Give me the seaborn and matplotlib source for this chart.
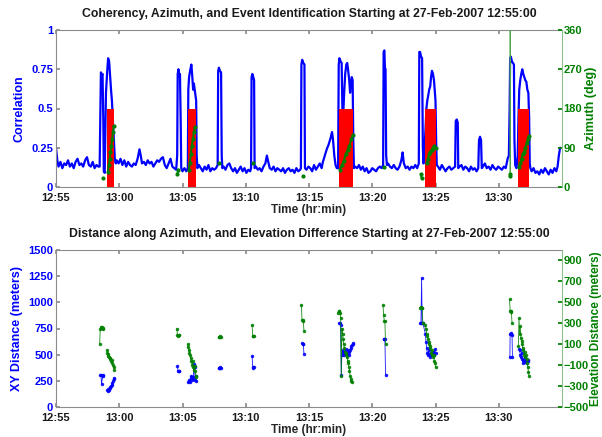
import numpy as np
import pandas as pd
import matplotlib
matplotlib.use("Agg")
import matplotlib.pyplot as plt
import seaborn as sns

# ---------------- data (minutes after 12:55:00) ----------------
tick_minutes = [0, 5, 10, 15, 20, 25, 30, 35]
tick_labels = ["12:55", "13:00", "13:05", "13:10", "13:15", "13:20", "13:25", "13:30"]

corr_time = [
    0.0, 0.1, 0.2, 0.35, 0.5, 0.65, 0.8, 0.95, 1.1, 1.25, 1.4, 1.55, 1.7, 1.85, 2.0, 2.15,
    2.3, 2.45, 2.6, 2.75, 2.9, 3.05, 3.2, 3.35,
    3.45, 3.5, 3.55, 3.62, 3.68, 3.74, 3.78, 3.85, 3.95, 4.05, 4.12, 4.2, 4.28, 4.35, 4.42,
    4.5, 4.58, 4.65, 4.72,
    4.8, 4.95, 5.1, 5.25, 5.4, 5.55, 5.7, 5.85, 6.0, 6.15, 6.3, 6.45, 6.6, 6.7, 6.8, 6.95,
    7.1, 7.25, 7.4, 7.55, 7.7, 7.85, 8.0, 8.15, 8.3, 8.45, 8.6, 8.75, 8.9, 9.05, 9.2, 9.35, 9.5,
    9.58, 9.62, 9.68, 9.74, 9.8, 9.86, 9.9, 10.0, 10.15, 10.3,
    10.42, 10.46, 10.52, 10.6, 10.7, 10.76, 10.84, 10.9, 11.0, 11.08, 11.12, 11.18,
    11.3, 11.45, 11.6, 11.75, 11.9, 12.05, 12.2, 12.35, 12.5, 12.65,
    12.78, 12.82, 12.88, 12.95, 13.05, 13.1, 13.15,
    13.25, 13.4, 13.55, 13.7, 13.85, 14.0, 14.15, 14.3, 14.45, 14.6, 14.75, 14.9, 15.05, 15.2, 15.35,
    15.42, 15.46, 15.52, 15.6, 15.66, 15.7,
    15.8, 15.95, 16.1, 16.25, 16.4, 16.55, 16.67, 16.78, 16.9, 17.05, 17.2, 17.35, 17.5, 17.65,
    17.8, 17.95, 18.1, 18.25, 18.4, 18.55, 18.7, 18.85, 19.0, 19.15, 19.3,
    19.36, 19.4, 19.46, 19.55, 19.64, 19.68,
    19.8, 19.95, 20.1, 20.25, 20.4, 20.55, 20.7, 20.85, 21.0, 21.1, 21.25, 21.4, 21.55, 21.7,
    21.82, 21.9, 22.0, 22.1, 22.2,
    22.3, 22.35, 22.4, 22.5, 22.58, 22.64, 22.7, 22.78, 22.86, 22.95, 23.02, 23.1, 23.18, 23.25,
    23.32, 23.38, 23.45, 23.5, 23.55,
    23.65, 23.8, 23.95, 24.1, 24.25, 24.4, 24.55, 24.7, 24.85, 25.0, 25.15, 25.3, 25.45, 25.6, 25.75,
    25.86, 25.9, 25.96, 26.0, 26.05, 26.1, 26.16,
    26.25, 26.4, 26.55, 26.7, 26.85, 27.0, 27.15, 27.3, 27.4, 27.5, 27.65, 27.8, 27.95, 28.1,
    28.25, 28.4, 28.55,
    28.68, 28.72, 28.78, 28.86, 28.94, 29.0, 29.05, 29.1, 29.2, 29.28, 29.35, 29.42, 29.5, 29.58,
    29.65, 29.72, 29.8, 29.88, 29.95, 30.0, 30.05, 30.1,
    30.2, 30.35, 30.5, 30.65, 30.8, 30.95, 31.1, 31.25, 31.4, 31.55, 31.6, 31.68, 31.76, 31.8, 31.9,
    32.05, 32.2, 32.35, 32.5, 32.65, 32.8, 32.95, 33.1, 33.25, 33.38, 33.44, 33.52, 33.6, 33.66, 33.75,
    33.9, 34.05, 34.2, 34.35, 34.5, 34.65, 34.8, 34.95, 35.1, 35.25, 35.4, 35.55, 35.7, 35.8,
    35.86, 35.9, 35.96, 36.04, 36.12, 36.2, 36.24, 36.3,
    36.4, 36.5, 36.56, 36.62, 36.7, 36.78, 36.86, 36.94, 37.02, 37.1, 37.18, 37.26, 37.34, 37.4,
    37.45, 37.5,
    37.6, 37.75, 37.9, 38.05, 38.2, 38.35, 38.5, 38.65, 38.8, 38.95, 39.1, 39.25, 39.4, 39.55,
    39.65, 39.75, 39.85,
]
corr_value = [
    0.25, 0.17, 0.13, 0.16, 0.12, 0.15, 0.14, 0.17, 0.13, 0.15, 0.12, 0.16, 0.18, 0.14, 0.15, 0.13,
    0.17, 0.19, 0.14, 0.13, 0.16, 0.12, 0.14, 0.13,
    0.13, 0.45, 0.73, 0.71, 0.72, 0.42, 0.10, 0.09, 0.60, 0.74, 0.82, 0.80, 0.70, 0.62, 0.55,
    0.42, 0.30, 0.18, 0.15,
    0.17, 0.15, 0.18, 0.14, 0.17, 0.13, 0.16, 0.14, 0.13, 0.15, 0.14, 0.18, 0.24, 0.20, 0.15, 0.16,
    0.14, 0.17, 0.15, 0.16, 0.13, 0.15, 0.17, 0.16, 0.18, 0.19, 0.14, 0.12, 0.15, 0.18, 0.13, 0.12, 0.11,
    0.20, 0.72, 0.75, 0.70, 0.72, 0.40, 0.12, 0.10, 0.12, 0.10,
    0.12, 0.62, 0.70, 0.74, 0.78, 0.72, 0.62, 0.66, 0.60, 0.55, 0.20, 0.12,
    0.14, 0.12, 0.10, 0.13, 0.11, 0.14, 0.10, 0.12, 0.11, 0.12,
    0.14, 0.74, 0.76, 0.74, 0.73, 0.20, 0.12,
    0.13, 0.11, 0.14, 0.15, 0.12, 0.10, 0.12, 0.09, 0.11, 0.13, 0.10, 0.12, 0.09, 0.11, 0.10,
    0.12, 0.70, 0.72, 0.70, 0.68, 0.12,
    0.13, 0.11, 0.12, 0.10, 0.13, 0.15, 0.20, 0.16, 0.12, 0.11, 0.13, 0.10, 0.12, 0.11,
    0.10, 0.12, 0.09, 0.11, 0.12, 0.10, 0.11, 0.09, 0.12, 0.10, 0.11,
    0.12, 0.78, 0.81, 0.79, 0.78, 0.12,
    0.11, 0.13, 0.12, 0.10, 0.14, 0.11, 0.13, 0.15, 0.12, 0.16, 0.20, 0.24, 0.27, 0.31,
    0.35, 0.30, 0.20, 0.14, 0.12,
    0.12, 0.78, 0.82, 0.80, 0.79, 0.50, 0.45, 0.60, 0.72, 0.78, 0.79, 0.74, 0.68, 0.60,
    0.66, 0.70, 0.68, 0.30, 0.12,
    0.13, 0.12, 0.14, 0.11, 0.13, 0.10, 0.12, 0.09, 0.10, 0.12, 0.11, 0.10, 0.12, 0.13, 0.12,
    0.14, 0.86, 0.87, 0.76, 0.75, 0.20, 0.14,
    0.15, 0.13, 0.12, 0.14, 0.12, 0.11, 0.13, 0.17, 0.22, 0.15, 0.12, 0.13, 0.11, 0.13,
    0.12, 0.14, 0.12,
    0.15, 0.86, 0.86, 0.83, 0.82, 0.25, 0.15, 0.20, 0.35, 0.50, 0.55, 0.58, 0.62, 0.64,
    0.70, 0.74, 0.72, 0.68, 0.60, 0.55, 0.30, 0.14,
    0.13, 0.11, 0.14, 0.12, 0.10, 0.12, 0.13, 0.11, 0.12, 0.13, 0.42, 0.43, 0.41, 0.12, 0.13,
    0.14, 0.11, 0.13, 0.12, 0.10, 0.13, 0.11, 0.12, 0.10, 0.12, 0.30, 0.32, 0.30, 0.12, 0.13,
    0.15, 0.12, 0.13, 0.11, 0.14, 0.12, 0.11, 0.13, 0.12, 0.11, 0.13, 0.12, 0.18, 0.20,
    0.50, 0.82, 0.83, 0.80, 0.79, 0.78, 0.30, 0.14,
    0.12, 0.20, 0.45, 0.62, 0.68, 0.72, 0.75, 0.72, 0.70, 0.68, 0.67, 0.62, 0.60, 0.45,
    0.15, 0.12,
    0.10, 0.12, 0.09, 0.10, 0.08, 0.11, 0.09, 0.12, 0.10, 0.08, 0.11, 0.09, 0.12, 0.10,
    0.13, 0.20, 0.25,
]

event_start = [4.05, 10.46, 22.40, 29.20, 36.50]
event_end = [4.57, 11.10, 23.50, 30.07, 37.40]
event_level = [0.5, 0.5, 0.5, 0.5, 0.5]

azim_time = [
    [3.7], [4.1, 4.17, 4.24, 4.3, 4.37, 4.44, 4.5, 4.56], [9.6, 9.65],
    [10.5, 10.58, 10.66, 10.74, 10.82, 10.9, 10.98], [12.9], [15.55], [19.5],
    [22.45, 22.6, 22.75, 22.9, 23.05, 23.2, 23.35, 23.48], [25.95], [28.85, 28.9],
    [29.3, 29.4, 29.5, 29.6, 29.7, 29.8, 29.9, 30.0], [35.88, 35.92],
    [36.6, 36.7, 36.8, 36.9, 37.0, 37.1, 37.2, 37.3, 37.38],
]
azim_value = [
    [21], [35, 50, 65, 80, 95, 110, 125, 140], [30, 40],
    [40, 55, 75, 95, 110, 125, 137], [56], [56], [25],
    [40, 50, 60, 75, 85, 95, 110, 120], [45], [30, 20],
    [55, 65, 75, 80, 85, 90, 95, 90], [25, 30],
    [45, 55, 65, 75, 80, 90, 100, 110, 118],
]
# brief azimuth wrap-around excursion (thin trace)
azim_jump_time = [35.88, 35.9, 35.92]
azim_jump_value = [25, 360, 30]

xy_time = [
    [3.5, 3.55, 3.6, 3.7, 3.75],
    [4.05, 4.1, 4.15, 4.2, 4.25, 4.3, 4.35, 4.4, 4.45, 4.5, 4.55, 4.6],
    [9.6, 9.65, 9.7, 9.75],
    [10.45, 10.5, 10.55, 10.6, 10.65, 10.7, 10.75, 10.8, 10.85, 10.9, 10.95, 11.0, 11.05, 11.1],
    [12.85, 12.9, 12.95, 13.0, 13.05],
    [15.5, 15.55, 15.6, 15.65],
    [19.45, 19.5, 19.55, 19.6],
    [22.4, 22.45, 22.5, 22.55, 22.6, 22.65, 22.7, 22.75, 22.8, 22.85, 22.9, 22.95, 23.0, 23.05,
     23.1, 23.15, 23.2, 23.25, 23.3, 23.35, 23.4, 23.45, 23.5],
    [25.9, 25.95, 26.0, 26.05],
    [28.8, 28.85, 28.9, 28.95, 29.0, 29.2, 29.25, 29.3, 29.35, 29.4, 29.45, 29.5, 29.55, 29.6,
     29.65, 29.7, 29.75, 29.8, 29.85, 29.9, 29.95, 30.0],
    [35.88, 35.9, 35.95, 36.0, 36.05, 36.08],
    [36.6, 36.65, 36.7, 36.75, 36.8, 36.85, 36.9, 36.95, 37.0, 37.05, 37.1, 37.15, 37.2, 37.25,
     37.3, 37.35],
]
xy_value = [
    [310, 310, 220, 300, 305],
    [160, 150, 170, 165, 180, 190, 200, 210, 230, 250, 270, 280],
    [390, 340, 340, 345],
    [240, 250, 260, 240, 280, 300, 260, 290, 270, 410, 380, 260, 300, 250],
    [375, 375, 380, 375, 375],
    [490, 380, 375, 380],
    [610, 600, 600, 510],
    [800, 800, 780, 310, 500, 530, 540, 520, 500, 530, 550, 520, 500, 540, 520, 500, 530, 540,
     560, 580, 590, 600, 610],
    [650, 650, 650, 310],
    [800, 800, 1230, 800, 800, 700, 620, 560, 520, 500, 540, 510, 480, 500, 520, 510, 500, 530,
     510, 500, 550, 520],
    [480, 700, 710, 700, 690, 480],
    [550, 540, 500, 480, 520, 460, 420, 450, 440, 480, 430, 450, 440, 420, 450, 440],
]

elev_time = [
    [3.45, 3.5, 3.55, 3.6, 3.65, 3.7, 3.75],
    [4.0, 4.05, 4.1, 4.15, 4.2, 4.25, 4.3, 4.35, 4.4, 4.45, 4.5, 4.55, 4.6],
    [9.55, 9.6, 9.65, 9.7, 9.75],
    [10.4, 10.45, 10.5, 10.55, 10.6, 10.65, 10.7, 10.75, 10.8, 10.85, 10.9, 10.95, 11.0, 11.05, 11.1],
    [12.85, 12.9, 12.95, 13.0, 13.05],
    [15.5, 15.55, 15.6, 15.65],
    [19.4, 19.45, 19.5, 19.55, 19.6],
    [22.3, 22.35, 22.4, 22.45, 22.5, 22.55, 22.6, 22.65, 22.7, 22.75, 22.8, 22.85, 22.9, 22.95,
     23.0, 23.05, 23.1, 23.15, 23.2, 23.25, 23.3, 23.35, 23.4],
    [25.85, 25.9, 25.95, 26.0, 26.05],
    [28.8, 28.85, 28.9, 28.95, 29.0, 29.2, 29.25, 29.3, 29.35, 29.4, 29.45, 29.5, 29.55, 29.6,
     29.65, 29.7, 29.75, 29.8, 29.85, 29.9, 29.95, 30.0],
    [35.85, 35.9, 35.95, 36.0, 36.05],
    [36.55, 36.6, 36.65, 36.7, 36.75, 36.8, 36.85, 36.9, 36.95, 37.0, 37.05, 37.1, 37.15, 37.2,
     37.25, 37.3, 37.35, 37.4],
]
elev_value = [
    [100, 250, 260, 255, 260, 250, 255],
    [40, 20, 10, -10, -20, -30, -40, -60, -50, -80, -100, -120, -150],
    [250, 190, 180, 190, 185],
    [100, 70, 40, 20, 0, -30, -60, -100, -60, -120, -150, -110, -160, -200, -210],
    [170, 170, 170, 175, 170],
    [280, 180, 175, 180],
    [470, 330, 320, 330, 230],
    [400, 420, 420, 400, 350, -200, 250, 200, 150, 100, 60, 30, 0, 20, -20, -60, -80, -120, -160,
     -200, -230, -250, -260],
    [470, 380, 320, 320, 100],
    [450, 460, 450, 450, 300, 280, 250, 200, 180, 150, 100, 120, 60, 80, 20, 0, 40, -20, 0, -60,
     -80, -120],
    [530, 420, 420, 410, 300],
    [80, 350, 200, 270, 160, 130, 100, 60, 40, 0, 30, -20, 0, -40, -80, -120, -170, -200],
]


def groups_to_frame(times, values):
    rows = []
    for gid, (ts, vs) in enumerate(zip(times, values)):
        for t, v in zip(ts, vs):
            rows.append((gid, t, v))
    return pd.DataFrame(rows, columns=["grp", "t", "v"])


# ---------------- style ----------------
sns.set_theme(style="white")
plt.rcParams['font.family'] = ['Liberation Sans', 'DejaVu Sans']
plt.rcParams['font.weight'] = 'bold'
plt.rcParams['axes.labelweight'] = 'bold'
plt.rcParams['axes.titleweight'] = 'bold'

BLUE = (0.0, 0.0, 1.0)
GREEN = (0.0, 0.5, 0.0)
RED = (1.0, 0.0, 0.0)
SPINE = "#8c8c8c"
FS = 8

fig = plt.figure(figsize=(6.02, 4.37), dpi=100)
W, H = 602.0, 437.0
ax1 = fig.add_axes([56 / W, 1 - 187 / H, 506 / W, 157 / H])
ax3 = fig.add_axes([56 / W, 1 - 407 / H, 506 / W, 157 / H])


def style_pair(axl, axr, lcol, rcol):
    for ax in (axl, axr):
        ax.set_xlim(0, 40)
        ax.set_facecolor("none")
    axl.set_xticks(tick_minutes)
    axl.set_xticklabels(tick_labels, fontsize=FS, fontweight="bold", color="#1a1a1a")
    axl.tick_params(axis="x", direction="in", length=3, top=True, bottom=True,
                    color=SPINE, pad=4)
    axl.tick_params(axis="y", direction="in", length=3, left=True, right=False,
                    color=SPINE, labelcolor=lcol, labelsize=FS, pad=2)
    axr.tick_params(axis="y", direction="in", length=3, right=True, left=False,
                    color=rcol, labelcolor=rcol, labelsize=FS, pad=1)
    axr.tick_params(axis="x", bottom=False, top=False, labelbottom=False)
    for s in ("left", "bottom", "top"):
        axl.spines[s].set_color(SPINE)
        axl.spines[s].set_linewidth(0.8)
        axr.spines[s].set_visible(False)
    axl.spines["right"].set_visible(False)
    axr.spines["right"].set_color((0.55, 0.75, 0.55))
    axr.spines["right"].set_linewidth(0.8)
    for lab in axl.get_yticklabels() + axr.get_yticklabels():
        lab.set_fontweight("bold")
    axl.set_xlabel("Time (hr:min)", fontsize=FS + 0.5, fontweight="bold", labelpad=1)


# ---------------- top panel ----------------
corr_df = pd.DataFrame({"t": corr_time, "v": corr_value})
sns.lineplot(data=corr_df, x="t", y="v", ax=ax1, color=BLUE, lw=1.6, estimator=None,
             sort=False, zorder=2)
ax1.bar(event_start, event_level, width=np.subtract(event_end, event_start), align="edge",
        color=RED, edgecolor="none", zorder=3)
ax1.set_ylim(0, 1)
ax1.set_yticks([0, 0.25, 0.5, 0.75, 1])
ax1.set_yticklabels(["0", "0.25", "0.5", "0.75", "1"])
ax1.set_ylabel("Correlation", color=BLUE, fontsize=FS + 1, fontweight="bold", labelpad=4)
ax1.set_title("Coherency, Azimuth, and Event Identification Starting at 27-Feb-2007 12:55:00",
              fontsize=8.8, fontweight="bold", pad=9, color="#1a1a1a")

ax2 = ax1.twinx()
jump_df = pd.DataFrame({"t": azim_jump_time, "v": azim_jump_value})
sns.lineplot(data=jump_df, x="t", y="v", estimator=None, sort=False, ax=ax2,
             color=(0.3, 0.65, 0.3), lw=0.6)
az_df = groups_to_frame(azim_time, azim_value)
sns.lineplot(data=az_df, x="t", y="v", units="grp", estimator=None, sort=False, ax=ax2,
             color=GREEN, lw=1.4, marker="o", markersize=3, markeredgewidth=0)
ax2.set_ylim(0, 360)
ax2.set_yticks([0, 90, 180, 270, 360])
ax2.set_ylabel("Azimuth (deg)", color=GREEN, fontsize=FS + 1, fontweight="bold", labelpad=2)
style_pair(ax1, ax2, BLUE, GREEN)

# ---------------- bottom panel ----------------
xy_df = groups_to_frame(xy_time, xy_value)
sns.lineplot(data=xy_df, x="t", y="v", units="grp", estimator=None, sort=False, ax=ax3,
             color=BLUE, lw=0.6, marker="o", markersize=2.5, markeredgewidth=0, alpha=0.9)
ax3.set_ylim(0, 1500)
ax3.set_yticks([0, 250, 500, 750, 1000, 1250, 1500])
ax3.set_ylabel("XY Distance (meters)", color=BLUE, fontsize=FS + 1, fontweight="bold", labelpad=4)
ax3.set_title("Distance along Azimuth, and Elevation Difference Starting at 27-Feb-2007 12:55:00",
              fontsize=8.8, fontweight="bold", pad=9, color="#1a1a1a")

ax4 = ax3.twinx()
el_df = groups_to_frame(elev_time, elev_value)
sns.lineplot(data=el_df, x="t", y="v", units="grp", estimator=None, sort=False, ax=ax4,
             color=GREEN, lw=0.6, marker="o", markersize=2.5, markeredgewidth=0, alpha=0.9)
ax4.set_ylim(-500, 1000)
ax4.set_yticks([-500, -300, -100, 100, 300, 500, 700, 900])
ax4.set_ylabel("Elevation Distance (meters)", color=GREEN, fontsize=8.5, fontweight="bold",
               labelpad=1)
style_pair(ax3, ax4, BLUE, GREEN)

fig.savefig("out.png", dpi=100, facecolor="white")
